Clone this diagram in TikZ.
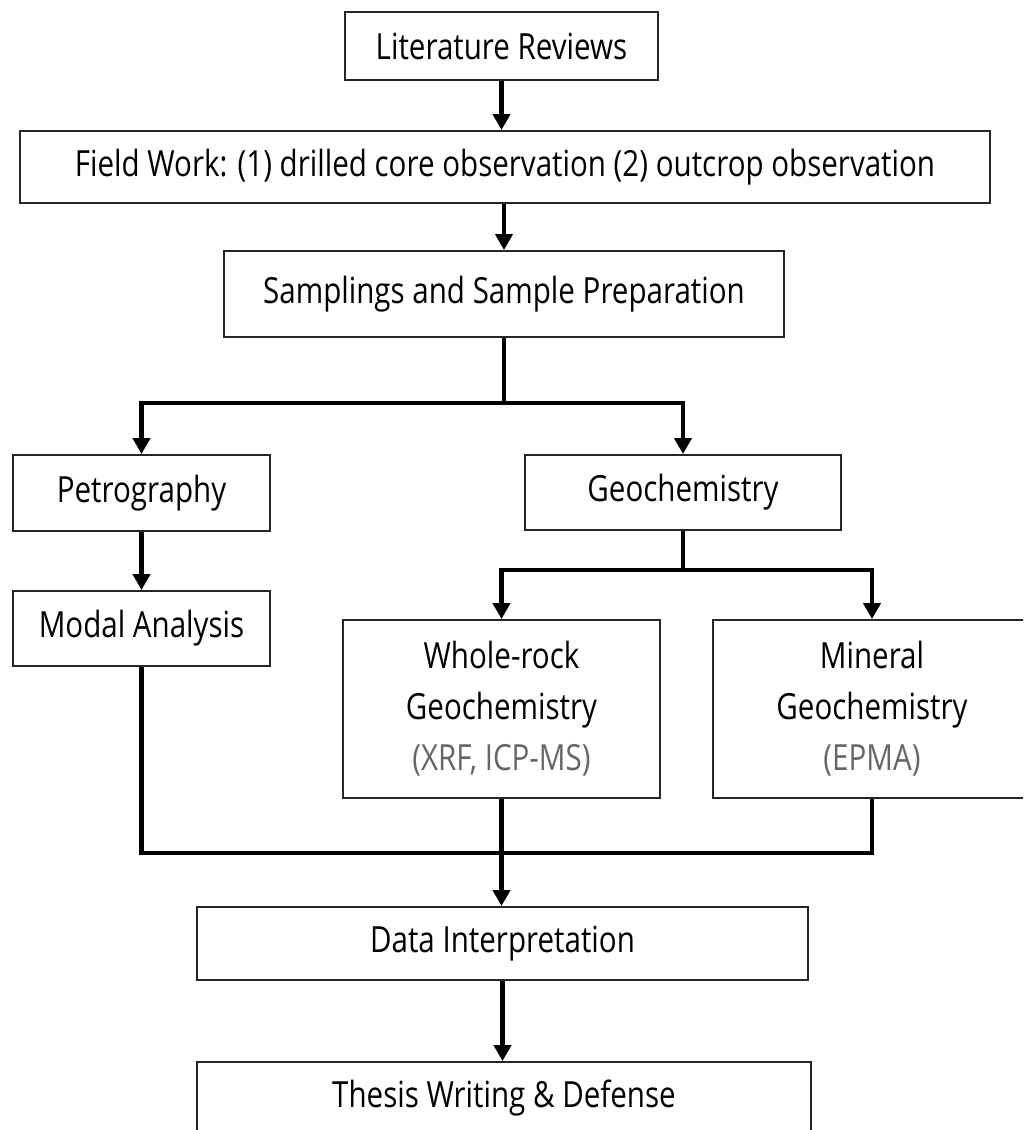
\documentclass[tikz,border=0pt]{standalone}
\usepackage{fontspec}
\setmainfont[FakeStretch=0.82]{Open Sans}
\usetikzlibrary{arrows.meta}

\begin{document}
\begin{tikzpicture}[box/.style={draw=black!85,line width=1.1pt,fill=white,align=center,inner sep=0pt},
  link/.style={line width=2.8pt,line join=miter},
  flow/.style={link,-{Triangle[length=9pt,width=9.6pt]}},
  every node/.append style={font=\fontsize{20.5pt}{29pt}\selectfont}]
  \useasboundingbox (0,0) rectangle (20.46,-22.6);
  \clip (0,0) rectangle (20.46,-22.6);

  \node[box,minimum width=6.26cm,minimum height=1.36cm] (lit) at (10.03,-0.92) {Literature Reviews};
  \node[box,minimum width=19.4cm,minimum height=1.44cm] (field) at (10.10,-3.34)
    {Field Work: (1) drilled core observation (2) outcrop observation};
  \node[box,minimum width=11.2cm,minimum height=1.72cm] (sampl) at (10.08,-5.88) {Samplings and Sample Preparation};
  \node[box,minimum width=5.14cm,minimum height=1.52cm] (petro) at (2.83,-9.86) {Petrography};
  \node[box,minimum width=6.32cm,minimum height=1.50cm] (geochem) at (13.66,-9.85) {Geochemistry};
  \node[box,minimum width=5.14cm,minimum height=1.50cm] (modal) at (2.83,-12.57) {Modal Analysis};
  \node[box,minimum width=6.34cm,minimum height=3.56cm] (wrock) at (10.03,-14.18)
    {Whole-rock\\Geochemistry\\\textcolor{black!60}{(XRF, ICP-MS)}};
  \node[box,minimum width=6.36cm,minimum height=3.56cm] (mineral) at (17.44,-14.18)
    {Mineral\\Geochemistry\\\textcolor{black!60}{(EPMA)}};
  \node[box,minimum width=12.22cm,minimum height=1.46cm] (interp) at (10.05,-18.87) {Data Interpretation};
  \node[box,minimum width=12.28cm,minimum height=1.46cm] (thesis) at (10.08,-21.97) {Thesis Writing \& Defense};

  \coordinate (j1) at (sampl.south |- 0,-8.06);
  \coordinate (j2) at (geochem.south |- 0,-11.40);
  \coordinate (j3) at (wrock.south |- 0,-17.06);

  \draw[flow] (lit.south) -- (lit.south |- field.north);
  \draw[flow] (sampl.north |- field.south) -- (sampl.north);
  \draw[link] (sampl.south) -- (j1);
  \draw[flow] (j1) -| (petro.north);
  \draw[flow] (j1) -| (geochem.north);
  \draw[flow] (petro) -- (modal);
  \draw[link] (geochem.south) -- (j2);
  \draw[flow] (j2) -| (wrock.north);
  \draw[flow] (j2) -| (mineral.north);
  % merge into interpretation
  \draw[link] (modal.south) -- (modal.south |- j3) -- (mineral.south |- j3) -- (mineral.south);
  \draw[flow] (wrock.south) -- (wrock.south |- interp.north);
  \draw[flow] (interp.south) -- (interp.south |- thesis.north);
\end{tikzpicture}
\end{document}
